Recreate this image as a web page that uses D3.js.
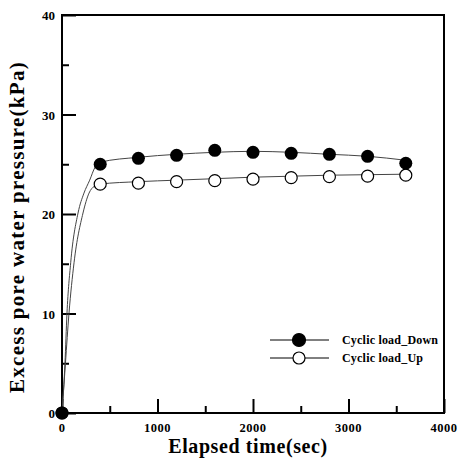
<!DOCTYPE html>
<html>
<head>
<meta charset="utf-8">
<script src="https://cdn.jsdelivr.net/npm/d3@7"></script>
<style>
  body { margin: 0; background: #fff; }
  text { font-family: "Liberation Serif", "Times New Roman", serif; font-weight: bold; }
</style>
</head>
<body>
<div id="chart"></div>
<script>
// Measured points
const timeSec = [0, 400, 800, 1200, 1600, 2000, 2400, 2800, 3200, 3600];
const downValues = [0, 25.0, 25.6, 25.9, 26.4, 26.2, 26.1, 26.0, 25.8, 25.1];
const upValues = [0, 23.0, 23.1, 23.25, 23.35, 23.5, 23.65, 23.75, 23.8, 23.9];

// Fitted curves
const fitDownTime = [0, 31, 52, 91, 168, 230, 290, 346, 400, 800, 1200, 1600, 2000, 2400, 2800, 3200, 3600];
const fitDownValues = [0, 5.0, 10, 15.1, 20.1, 22.1, 23.4, 24.7, 25.2, 25.7, 26.0, 26.2, 26.3, 26.2, 26.0, 25.8, 25.4];
const fitUpTime = [0, 36, 73, 126, 220, 283, 340, 400, 800, 1200, 1600, 2000, 2400, 2800, 3200, 3600];
const fitUpValues = [0, 5.0, 10, 15.1, 20.1, 22.1, 22.8, 23.0, 23.25, 23.4, 23.55, 23.7, 23.8, 23.9, 23.95, 24.0];

const xTicks = [0, 1000, 2000, 3000, 4000];
const yTicks = [0, 10, 20, 30, 40];
const seriesNames = ['Cyclic load_Down', 'Cyclic load_Up'];

const svgWidth = 459, svgHeight = 462;
const margin = { top: 15, right: 15, bottom: 49, left: 62 };
const chartWidth = svgWidth - margin.left - margin.right;
const chartHeight = svgHeight - margin.top - margin.bottom;

let svg = d3.select('#chart')
    .append('svg')
    .attr('width', svgWidth)
    .attr('height', svgHeight);

let chart = svg.append('g')
    .attr('transform', `translate(${margin.left}, ${margin.top})`);

let xScale = d3.scaleLinear().domain([0, 4000]).range([0, chartWidth]);
let yScale = d3.scaleLinear().domain([0, 40]).range([chartHeight, 0]);

// Frame
chart.append('rect')
    .attr('x', 0).attr('y', 0)
    .attr('width', chartWidth).attr('height', chartHeight)
    .attr('fill', 'none')
    .attr('stroke', '#000')
    .attr('stroke-width', 2);

// Inward ticks, major and minor
let xAxis = d3.axisTop(xScale).tickValues(d3.range(0, 4001, 500))
    .tickSize(0).tickFormat('');
let xAxisG = chart.append('g')
    .attr('transform', `translate(0, ${chartHeight})`)
    .call(xAxis);
xAxisG.select('.domain').remove();
xAxisG.selectAll('.tick line')
    .attr('y2', d => d % 1000 === 0 ? -14 : -7)
    .attr('stroke-width', 2);

let yAxis = d3.axisRight(yScale).tickValues(d3.range(0, 41, 5))
    .tickSize(0).tickFormat('');
let yAxisG = chart.append('g').call(yAxis);
yAxisG.select('.domain').remove();
yAxisG.selectAll('.tick line')
    .attr('x2', d => d % 10 === 0 ? 14 : 7)
    .attr('stroke-width', 2);

// Tick labels
chart.selectAll('.xlabel')
    .data(xTicks)
    .enter()
    .append('text')
    .attr('x', d => xScale(d))
    .attr('y', chartHeight + 19)
    .attr('text-anchor', 'middle')
    .attr('font-size', '12.5px')
    .attr('letter-spacing', '0.5px')
    .text(d => d);

chart.selectAll('.ylabel')
    .data(yTicks)
    .enter()
    .append('text')
    .attr('x', -7)
    .attr('y', d => yScale(d) + 5)
    .attr('text-anchor', 'end')
    .attr('font-size', '13px')
    .text(d => d);

// Fit lines
let line = d3.line()
    .x(d => xScale(d[0]))
    .y(d => yScale(d[1]))
    .curve(d3.curveMonotoneX);

chart.append('path')
    .datum(fitDownTime.map((t, i) => [t, fitDownValues[i]]))
    .attr('d', line)
    .attr('fill', 'none')
    .attr('stroke', '#444')
    .attr('stroke-width', 1);

chart.append('path')
    .datum(fitUpTime.map((t, i) => [t, fitUpValues[i]]))
    .attr('d', line)
    .attr('fill', 'none')
    .attr('stroke', '#444')
    .attr('stroke-width', 1);

// Markers
chart.selectAll('.pt-up')
    .data(timeSec)
    .enter()
    .append('circle')
    .attr('cx', d => xScale(d))
    .attr('cy', (d, i) => yScale(upValues[i]))
    .attr('r', 6)
    .attr('fill', '#fff')
    .attr('stroke', '#000')
    .attr('stroke-width', 1.2);

chart.selectAll('.pt-down')
    .data(timeSec)
    .enter()
    .append('circle')
    .attr('cx', d => xScale(d))
    .attr('cy', (d, i) => yScale(downValues[i]))
    .attr('r', 6.5)
    .attr('fill', '#000');

// Legend
const legend = svg.append('g').attr('transform', 'translate(270, 340)');
seriesNames.forEach((name, i) => {
    let g = legend.append('g').attr('transform', `translate(0, ${i * 18})`);
    g.append('line')
        .attr('x1', 0).attr('x2', 59)
        .attr('y1', 0).attr('y2', 0)
        .attr('stroke', '#000').attr('stroke-width', 1);
    g.append('circle')
        .attr('cx', 29).attr('cy', 0)
        .attr('r', i === 0 ? 6.5 : 6)
        .attr('fill', i === 0 ? '#000' : '#fff')
        .attr('stroke', '#000').attr('stroke-width', 1.2);
    g.append('text')
        .attr('x', 72).attr('y', 4)
        .attr('font-size', '12px')
        .attr('letter-spacing', '0.2px')
        .text(name);
});

// Axis titles
svg.append('text')
    .attr('x', 248)
    .attr('y', 453)
    .attr('text-anchor', 'middle')
    .attr('font-size', '20px')
    .attr('letter-spacing', '0.6px')
    .text('Elapsed time(sec)');

svg.append('text')
    .attr('transform', 'rotate(-90)')
    .attr('x', -227)
    .attr('y', 24)
    .attr('text-anchor', 'middle')
    .attr('font-size', '21px')
    .attr('letter-spacing', '1.3px')
    .text('Excess pore water pressure(kPa)');
</script>
</body>
</html>
